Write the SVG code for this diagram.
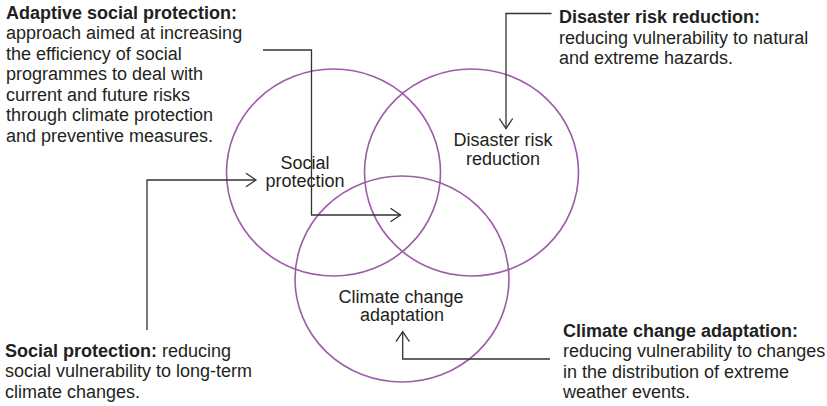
<svg xmlns="http://www.w3.org/2000/svg" width="827" height="406" viewBox="0 0 827 406">
<defs>
<style>
.t{font-family:"Liberation Sans",Arial,sans-serif;font-size:18px;fill:#231f20}
.b{font-weight:bold}
.c{fill:none;stroke:#9d5ca8;stroke-width:1.6}
.m{text-anchor:middle}
.l{fill:none;stroke:#333;stroke-width:1.3}
</style>
<marker id="ah" markerUnits="userSpaceOnUse" markerWidth="24" markerHeight="24" viewBox="-12 -12 24 24" refX="0" refY="0" orient="auto">
<path d="M-10,-6.7 L0,0 L-10,6.7" fill="none" stroke="#333" stroke-width="1.3"/>
</marker>
</defs>
<rect width="827" height="406" fill="#fff"/>
<g id="circles">
<g id="social-protection"><ellipse class="c" cx="333.5" cy="172.5" rx="107" ry="103.5"/>
<text class="t m"><tspan x="305" y="169">Social</tspan><tspan x="305" y="187">protection</tspan></text></g>
<g id="disaster-risk-reduction"><ellipse class="c" cx="471.5" cy="172.5" rx="107" ry="103.5"/>
<text class="t m"><tspan x="503" y="146">Disaster risk</tspan><tspan x="503" y="164.5">reduction</tspan></text></g>
<g id="climate-change-adaptation"><ellipse class="c" cx="402" cy="279" rx="107" ry="103"/>
<text class="t m"><tspan x="401" y="302.5">Climate change</tspan><tspan x="402" y="320.5">adaptation</tspan></text></g>
</g>
<g id="connectors">
<path class="l" d="M263,50 H311.5 V215 H400.5" marker-end="url(#ah)"/>
<path class="l" d="M551.5,13.5 H506 V128.5" marker-end="url(#ah)"/>
<path class="l" d="M147,330 V180 H256" marker-end="url(#ah)"/>
<path class="l" d="M550,359 H402.7 V331.7" marker-end="url(#ah)"/>
</g>
<g id="adaptive-social-protection">
<text class="t" x="6"><tspan class="b" x="6" y="18.5">Adaptive social protection:</tspan><tspan x="6" y="39">approach aimed at increasing</tspan><tspan x="6" y="59.6">the efficiency of social</tspan><tspan x="6" y="80.2">programmes to deal with</tspan><tspan x="6" y="100.8">current and future risks</tspan><tspan x="6" y="121.4">through climate protection</tspan><tspan x="6" y="142">and preventive measures.</tspan></text>
</g>
<g id="drr-note">
<text class="t"><tspan class="b" x="559" y="23.3">Disaster risk reduction:</tspan><tspan x="559" y="43.8">reducing vulnerability to natural</tspan><tspan x="559" y="64.3">and extreme hazards.</tspan></text>
</g>
<g id="sp-note">
<text class="t"><tspan class="b" x="5" y="356.7">Social protection:</tspan><tspan> reducing</tspan><tspan x="5" y="377.2">social vulnerability to long-term</tspan><tspan x="5" y="397.7">climate changes.</tspan></text>
</g>
<g id="cca-note">
<text class="t"><tspan class="b" x="563" y="336.8">Climate change adaptation:</tspan><tspan x="563" y="357.3">reducing vulnerability to changes</tspan><tspan x="563" y="377.8">in the distribution of extreme</tspan><tspan x="563" y="398.3">weather events.</tspan></text>
</g>
</svg>
